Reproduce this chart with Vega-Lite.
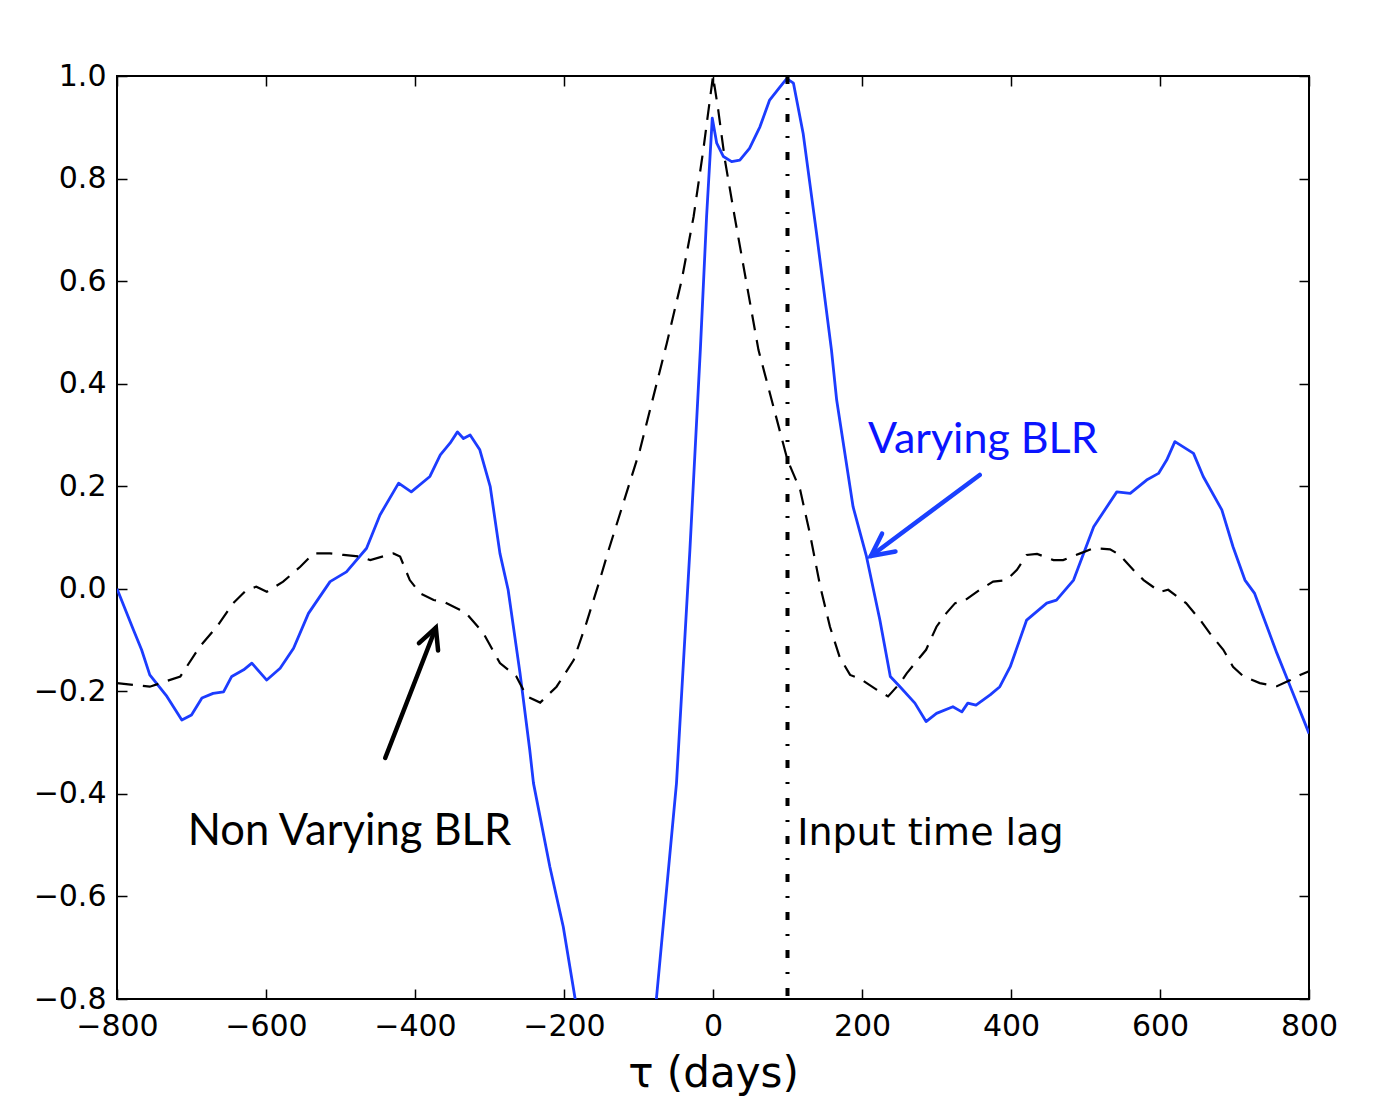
{
  "$schema": "https://vega.github.io/schema/vega-lite/v6.json",
  "width": 1192,
  "height": 923,
  "autosize": "none",
  "padding": {"left": 117, "top": 76, "right": 77, "bottom": 110},
  "background": "#ffffff",
  "datasets": {
    "varying": [
      {"tau": -800, "r": 0.0}, {"tau": -778, "r": -0.08}, {"tau": -767, "r": -0.119}, {"tau": -756, "r": -0.168},
      {"tau": -733, "r": -0.21}, {"tau": -713, "r": -0.256}, {"tau": -700, "r": -0.246}, {"tau": -686, "r": -0.213},
      {"tau": -671, "r": -0.204}, {"tau": -657, "r": -0.201}, {"tau": -646, "r": -0.171}, {"tau": -630, "r": -0.158},
      {"tau": -619, "r": -0.145}, {"tau": -599, "r": -0.178}, {"tau": -581, "r": -0.155}, {"tau": -563, "r": -0.116},
      {"tau": -543, "r": -0.048}, {"tau": -514, "r": 0.014}, {"tau": -492, "r": 0.033}, {"tau": -465, "r": 0.079},
      {"tau": -447, "r": 0.144}, {"tau": -422, "r": 0.206}, {"tau": -405, "r": 0.189}, {"tau": -380, "r": 0.219},
      {"tau": -366, "r": 0.261}, {"tau": -353, "r": 0.284}, {"tau": -343, "r": 0.306}, {"tau": -335, "r": 0.293},
      {"tau": -326, "r": 0.3}, {"tau": -313, "r": 0.271}, {"tau": -299, "r": 0.199}, {"tau": -286, "r": 0.069},
      {"tau": -275, "r": -0.002}, {"tau": -259, "r": -0.165}, {"tau": -246, "r": -0.314}, {"tau": -241, "r": -0.379},
      {"tau": -219, "r": -0.542}, {"tau": -201, "r": -0.659}, {"tau": -185, "r": -0.8}, {"tau": -160, "r": -1.0},
      {"tau": -130, "r": -1.2}, {"tau": -110, "r": -1.3}, {"tau": -95, "r": -1.15}, {"tau": -76, "r": -0.8},
      {"tau": -49, "r": -0.379}, {"tau": -31, "r": 0.076}, {"tau": -17, "r": 0.466}, {"tau": -8.6, "r": 0.726},
      {"tau": -1, "r": 0.918}, {"tau": 5, "r": 0.869}, {"tau": 14, "r": 0.843}, {"tau": 25, "r": 0.833},
      {"tau": 36, "r": 0.836}, {"tau": 49, "r": 0.859}, {"tau": 63, "r": 0.901}, {"tau": 76, "r": 0.953},
      {"tau": 90, "r": 0.979}, {"tau": 99, "r": 0.995}, {"tau": 108, "r": 0.986}, {"tau": 121, "r": 0.888},
      {"tau": 139, "r": 0.693}, {"tau": 159, "r": 0.466}, {"tau": 166, "r": 0.368}, {"tau": 188, "r": 0.16},
      {"tau": 206, "r": 0.063}, {"tau": 224, "r": -0.061}, {"tau": 238, "r": -0.171}, {"tau": 251, "r": -0.191},
      {"tau": 271, "r": -0.223}, {"tau": 286, "r": -0.259}, {"tau": 300, "r": -0.243}, {"tau": 322, "r": -0.23},
      {"tau": 334, "r": -0.24}, {"tau": 342, "r": -0.223}, {"tau": 353, "r": -0.227}, {"tau": 372, "r": -0.207},
      {"tau": 385, "r": -0.191}, {"tau": 399, "r": -0.152}, {"tau": 421, "r": -0.061}, {"tau": 448, "r": -0.028},
      {"tau": 461, "r": -0.022}, {"tau": 484, "r": 0.017}, {"tau": 511, "r": 0.121}, {"tau": 542, "r": 0.189},
      {"tau": 560, "r": 0.186}, {"tau": 582, "r": 0.212}, {"tau": 598, "r": 0.225}, {"tau": 609, "r": 0.251},
      {"tau": 620, "r": 0.287}, {"tau": 645, "r": 0.264}, {"tau": 658, "r": 0.219}, {"tau": 683, "r": 0.154},
      {"tau": 698, "r": 0.082}, {"tau": 714, "r": 0.017}, {"tau": 727, "r": -0.009}, {"tau": 757, "r": -0.126},
      {"tau": 775, "r": -0.191}, {"tau": 800, "r": -0.282}
    ],
    "nonvarying": [
      {"tau": -800, "r": -0.184}, {"tau": -756, "r": -0.191}, {"tau": -715, "r": -0.171}, {"tau": -689, "r": -0.113},
      {"tau": -666, "r": -0.074}, {"tau": -644, "r": -0.028}, {"tau": -626, "r": -0.002}, {"tau": -613, "r": 0.004},
      {"tau": -599, "r": -0.006}, {"tau": -577, "r": 0.014}, {"tau": -554, "r": 0.043}, {"tau": -536, "r": 0.069},
      {"tau": -514, "r": 0.069}, {"tau": -496, "r": 0.066}, {"tau": -474, "r": 0.063}, {"tau": -460, "r": 0.056},
      {"tau": -429, "r": 0.069}, {"tau": -420, "r": 0.063}, {"tau": -407, "r": 0.017}, {"tau": -393, "r": -0.009},
      {"tau": -375, "r": -0.022}, {"tau": -362, "r": -0.025}, {"tau": -340, "r": -0.041}, {"tau": -331, "r": -0.048},
      {"tau": -308, "r": -0.087}, {"tau": -286, "r": -0.145}, {"tau": -264, "r": -0.171}, {"tau": -250, "r": -0.21},
      {"tau": -232, "r": -0.222}, {"tau": -210, "r": -0.191}, {"tau": -187, "r": -0.139}, {"tau": -170, "r": -0.067},
      {"tau": -152, "r": 0.017}, {"tau": -140, "r": 0.076}, {"tau": -98, "r": 0.271}, {"tau": -62, "r": 0.479},
      {"tau": -42, "r": 0.602}, {"tau": -26, "r": 0.726}, {"tau": -13, "r": 0.856}, {"tau": 0, "r": 1.0},
      {"tau": 7, "r": 0.934}, {"tau": 16, "r": 0.836}, {"tau": 29, "r": 0.726}, {"tau": 45, "r": 0.596},
      {"tau": 61, "r": 0.466}, {"tau": 100, "r": 0.251}, {"tau": 117, "r": 0.193}, {"tau": 130, "r": 0.108},
      {"tau": 144, "r": 0.004}, {"tau": 157, "r": -0.074}, {"tau": 170, "r": -0.133}, {"tau": 184, "r": -0.168},
      {"tau": 197, "r": -0.175}, {"tau": 220, "r": -0.197}, {"tau": 235, "r": -0.21}, {"tau": 251, "r": -0.184},
      {"tau": 260, "r": -0.165}, {"tau": 278, "r": -0.133}, {"tau": 286, "r": -0.119}, {"tau": 300, "r": -0.074},
      {"tau": 313, "r": -0.048}, {"tau": 325, "r": -0.028}, {"tau": 336, "r": -0.025}, {"tau": 358, "r": -0.002},
      {"tau": 376, "r": 0.014}, {"tau": 394, "r": 0.017}, {"tau": 408, "r": 0.037}, {"tau": 421, "r": 0.066},
      {"tau": 435, "r": 0.068}, {"tau": 457, "r": 0.056}, {"tau": 470, "r": 0.056}, {"tau": 493, "r": 0.069},
      {"tau": 511, "r": 0.079}, {"tau": 533, "r": 0.077}, {"tau": 546, "r": 0.066}, {"tau": 564, "r": 0.037},
      {"tau": 578, "r": 0.017}, {"tau": 600, "r": -0.006}, {"tau": 611, "r": -0.002}, {"tau": 635, "r": -0.028},
      {"tau": 654, "r": -0.061}, {"tau": 667, "r": -0.087}, {"tau": 685, "r": -0.119}, {"tau": 698, "r": -0.152},
      {"tau": 712, "r": -0.171}, {"tau": 734, "r": -0.184}, {"tau": 757, "r": -0.19}, {"tau": 775, "r": -0.178},
      {"tau": 788, "r": -0.168}, {"tau": 800, "r": -0.161}
    ],
    "lag": [{"tau": 100, "top": 1.0, "bottom": -0.8}],
    "blueLabel": [{"tau": 208, "r": 0.265, "label": "Varying BLR"}],
    "blackLabel": [{"tau": -705, "r": -0.5, "label": "Non Varying BLR"}],
    "lagLabel": [{"tau": 113, "r": -0.5, "label": "Input time lag"}],
    "blueArrow": [{"tau": 358, "r": 0.222, "tau2": 212, "r2": 0.064}],
    "blackArrow": [{"tau": -440, "r": -0.33, "tau2": -372, "r2": -0.076}]
  },
  "layer": [
    {
      "data": {"name": "varying"},
      "mark": {"type": "line", "color": "#1c3cff", "strokeWidth": 2.8, "clip": true, "strokeJoin": "round"},
      "encoding": {
        "x": {"field": "tau", "type": "quantitative",
              "scale": {"domain": [-800, 800], "nice": false, "zero": false},
              "axis": {"orient": "bottom", "values": [-800, -600, -400, -200, 0, 200, 400, 600, 800], "format": "d",
                       "title": "τ (days)", "titleFont": "DejaVu Sans", "titleFontSize": 42, "titleFontWeight": "normal",
                       "titleColor": "#000", "titlePadding": 12, "labelPadding": 22}},
        "y": {"field": "r", "type": "quantitative",
              "scale": {"domain": [-0.8, 1.0], "nice": false, "zero": false},
              "axis": {"orient": "left", "values": [-0.8, -0.6, -0.4, -0.2, 0, 0.2, 0.4, 0.6, 0.8, 1.0], "format": ".1f",
                       "title": null, "labelPadding": 21}}
      }
    },
    {
      "data": {"name": "nonvarying"},
      "mark": {"type": "line", "color": "#000000", "strokeWidth": 2.2, "strokeDash": [16, 10], "clip": true},
      "encoding": {
        "x": {"field": "tau", "type": "quantitative",
              "axis": {"orient": "top", "values": [-800, -600, -400, -200, 0, 200, 400, 600, 800], "labels": false, "title": null}},
        "y": {"field": "r", "type": "quantitative",
              "axis": {"orient": "right", "values": [-0.8, -0.6, -0.4, -0.2, 0, 0.2, 0.4, 0.6, 0.8, 1.0], "labels": false, "title": null}}
      }
    },
    {
      "data": {"name": "lag"},
      "mark": {"type": "rule", "color": "#000000", "strokeWidth": 4, "strokeDash": [8, 14, 2, 14]},
      "encoding": {
        "x": {"field": "tau", "type": "quantitative", "axis": null},
        "y": {"field": "top", "type": "quantitative", "axis": null},
        "y2": {"field": "bottom"}
      }
    },
    {
      "data": {"name": "blueLabel"},
      "mark": {"type": "text", "align": "left", "baseline": "alphabetic", "font": "Lato", "fontSize": 43, "color": "#0a14ff"},
      "encoding": {
        "x": {"field": "tau", "type": "quantitative", "axis": null},
        "y": {"field": "r", "type": "quantitative", "axis": null},
        "text": {"field": "label"}
      }
    },
    {
      "data": {"name": "blackLabel"},
      "mark": {"type": "text", "align": "left", "baseline": "alphabetic", "font": "Lato", "fontSize": 43.5, "color": "#000000"},
      "encoding": {
        "x": {"field": "tau", "type": "quantitative", "axis": null},
        "y": {"field": "r", "type": "quantitative", "axis": null},
        "text": {"field": "label"}
      }
    },
    {
      "data": {"name": "lagLabel"},
      "mark": {"type": "text", "align": "left", "baseline": "alphabetic", "font": "DejaVu Sans", "fontSize": 38, "color": "#000000"},
      "encoding": {
        "x": {"field": "tau", "type": "quantitative", "axis": null},
        "y": {"field": "r", "type": "quantitative", "axis": null},
        "text": {"field": "label"}
      }
    },
    {
      "data": {"name": "blueArrow"},
      "mark": {"type": "rule", "color": "#1a40ff", "strokeWidth": 4.5, "strokeCap": "round"},
      "encoding": {
        "x": {"field": "tau", "type": "quantitative", "axis": null},
        "y": {"field": "r", "type": "quantitative", "axis": null},
        "x2": {"field": "tau2"},
        "y2": {"field": "r2"}
      }
    },
    {
      "data": {"name": "blueArrow"},
      "mark": {"type": "point", "shape": "M-0.5,1L0,0L0.5,1", "size": 1990, "filled": false, "stroke": "#1a40ff",
               "strokeWidth": 4.5, "strokeCap": "round", "strokeJoin": "miter", "angle": 233, "opacity": 1},
      "encoding": {
        "x": {"field": "tau2", "type": "quantitative", "axis": null},
        "y": {"field": "r2", "type": "quantitative", "axis": null}
      }
    },
    {
      "data": {"name": "blackArrow"},
      "mark": {"type": "rule", "color": "#000000", "strokeWidth": 4.5, "strokeCap": "round"},
      "encoding": {
        "x": {"field": "tau", "type": "quantitative", "axis": null},
        "y": {"field": "r", "type": "quantitative", "axis": null},
        "x2": {"field": "tau2"},
        "y2": {"field": "r2"}
      }
    },
    {
      "data": {"name": "blackArrow"},
      "mark": {"type": "point", "shape": "M-0.5,1L0,0L0.5,1", "size": 1680, "filled": false, "stroke": "#000000",
               "strokeWidth": 4.5, "strokeCap": "round", "strokeJoin": "miter", "angle": 21, "opacity": 1},
      "encoding": {
        "x": {"field": "tau2", "type": "quantitative", "axis": null},
        "y": {"field": "r2", "type": "quantitative", "axis": null}
      }
    }
  ],
  "resolve": {"axis": {"x": "independent", "y": "independent"}},
  "config": {
    "view": {"stroke": "#000000", "strokeWidth": 2},
    "axis": {
      "labelFont": "DejaVu Sans", "labelFontSize": 30, "labelColor": "#000000",
      "labelFlush": false, "labelOverlap": false, "labelBound": false,
      "domain": false, "grid": false,
      "tickColor": "#000000", "tickWidth": 1.5, "tickSize": -10
    }
  }
}
